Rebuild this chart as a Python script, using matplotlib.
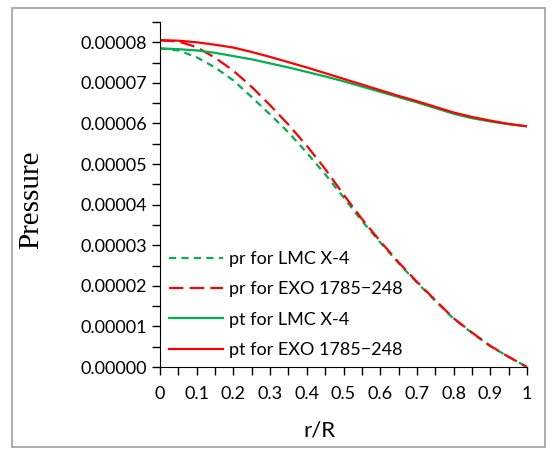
import matplotlib
matplotlib.use('Agg')
import matplotlib.pyplot as plt
from matplotlib.patches import Rectangle
from matplotlib.ticker import MultipleLocator, FormatStrFormatter

# r/R grid and pressures (units of 1e-5)
r = [0, 0.05, 0.1, 0.15, 0.2, 0.25, 0.3, 0.35, 0.4, 0.45, 0.5,
     0.55, 0.6, 0.65, 0.7, 0.75, 0.8, 0.85, 0.9, 0.95, 1.0]
pr_lmc = [7.85, 7.80, 7.63, 7.38, 7.06, 6.65, 6.22, 5.78, 5.28, 4.75, 4.18,
          3.60, 3.07, 2.56, 2.08, 1.63, 1.19, 0.84, 0.51, 0.25, 0.0]
pr_exo = [8.05, 8.02, 7.88, 7.62, 7.30, 6.90, 6.45, 5.97, 5.45, 4.88, 4.25,
          3.65, 3.10, 2.58, 2.10, 1.65, 1.20, 0.85, 0.52, 0.25, 0.0]
pt_lmc = [7.85, 7.83, 7.80, 7.74, 7.66, 7.58, 7.48, 7.38, 7.27, 7.16, 7.04,
          6.91, 6.78, 6.65, 6.52, 6.38, 6.24, 6.13, 6.05, 5.98, 5.93]
pt_exo = [8.05, 8.04, 8.00, 7.94, 7.87, 7.76, 7.64, 7.51, 7.38, 7.24, 7.10,
          6.96, 6.82, 6.68, 6.55, 6.41, 6.27, 6.16, 6.07, 5.99, 5.93]

scale = 1e-5
green = '#00B050'
red = '#FF0000'
tick_font = 'Lato'

fig = plt.figure(figsize=(5.55, 4.65), dpi=100)
fig.patches.append(Rectangle((12/555, 1-447/465), 533/555, 439/465,
                             transform=fig.transFigure, fill=False,
                             edgecolor='#a0a0a0', linewidth=1.2))
ax = fig.add_axes([160/555, 1-367/465, 367/555, 345/465])

ax.plot(r, [v*scale for v in pr_lmc], color=green, lw=1.6,
        dashes=(3.2, 2.4), label='pr for LMC X-4')
ax.plot(r, [v*scale for v in pr_exo], color=red, lw=1.6,
        dashes=(6.5, 2.8), label='pr for EXO 1785\u2212248')
ax.plot(r, [v*scale for v in pt_lmc], color=green, lw=1.6,
        label='pt for LMC X-4')
ax.plot(r, [v*scale for v in pt_exo], color=red, lw=1.6,
        label='pt for EXO 1785\u2212248')

ax.set_xlim(0, 1)
ax.set_ylim(0, 0.000085)
ax.spines['top'].set_visible(False)
ax.spines['right'].set_visible(False)
ax.xaxis.set_major_locator(MultipleLocator(0.1))
ax.xaxis.set_minor_locator(MultipleLocator(0.05))
ax.yaxis.set_major_locator(MultipleLocator(0.00001))
ax.yaxis.set_minor_locator(MultipleLocator(0.000005))
ax.yaxis.set_major_formatter(FormatStrFormatter('%.5f'))
ax.xaxis.set_major_formatter(lambda v, p: '%g' % round(v, 2))
ax.tick_params(which='both', direction='out', length=6, width=1, colors='black')
ax.tick_params(axis='x', pad=8)
for lab in ax.get_xticklabels() + ax.get_yticklabels():
    lab.set_fontfamily(tick_font)
    lab.set_fontsize(13)

ax.set_xlabel('r/R', fontfamily=tick_font, fontsize=16)
ax.xaxis.set_label_coords(0.435, -0.155)
ax.set_ylabel('Pressure', fontfamily='Liberation Serif', fontsize=21)
ax.yaxis.set_label_coords(-0.316, 0.484)

ax.legend(loc='lower left', frameon=False, prop={'family': tick_font, 'size': 13},
          handlelength=3.0, handletextpad=0.33, labelspacing=0.79,
          borderaxespad=0.2, bbox_to_anchor=(-0.005, -0.005))

fig.savefig('out.png', dpi=100)
